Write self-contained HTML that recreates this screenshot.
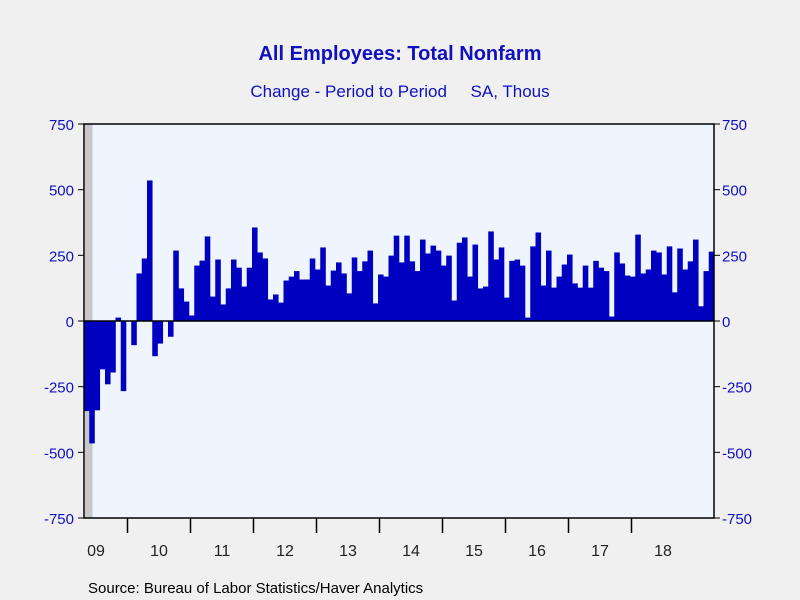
<!DOCTYPE html>
<html><head><meta charset="utf-8"><style>
body{margin:0;background:#f0f0f0;}
svg{display:block;font-family:"Liberation Sans",sans-serif;}
</style></head><body>
<svg width="800" height="600">
<rect x="0" y="0" width="800" height="600" fill="#f0f0f0"/>
<text x="400" y="60" text-anchor="middle" font-size="20" font-weight="bold" fill="#1010c0">All Employees: Total Nonfarm</text>
<text x="400" y="97" text-anchor="middle" font-size="17" fill="#1010c0" xml:space="preserve">Change - Period to Period     SA, Thous</text>
<rect x="84" y="124" width="630" height="394" fill="#eef5ff"/>
<rect x="85" y="124" width="7.5" height="394" fill="#c8c8c8"/>
<g id="bars"></g>
<g id="axes"></g>
<text x="88" y="593" font-size="15" fill="#000">Source:  Bureau of Labor Statistics/Haver Analytics</text>
</svg>
<script>
const values=[-343,-466,-340,-184,-241,-196,13,-267,2,-92,181,238,535,-134,-86,-2,-60,268,124,74,21,211,230,322,93,234,63,124,234,203,131,203,356,261,238,82,101,70,154,169,190,158,158,238,196,280,135,192,223,181,105,242,190,227,268,67,177,169,249,325,223,325,227,190,310,257,287,268,211,249,78,298,318,169,291,124,131,341,234,280,89,229,234,211,13,284,337,135,268,127,169,215,253,143,127,211,127,229,203,190,17,261,219,173,169,329,181,196,268,261,177,284,109,276,196,227,310,56,190,264];
const ticks=[750,500,250,0,-250,-500,-750];
const years=["09","10","11","12","13","14","15","16","17","18"];
const X0=84,W=630,N=values.length,bw=W/N;
const y=v=>321-v*(394/1500);
const x=i=>X0+i*bw;
const NS="http://www.w3.org/2000/svg";
const bars=document.getElementById('bars'),axes=document.getElementById('axes');
function mk(tag,attrs,parent){const e=document.createElementNS(NS,tag);for(const k in attrs)e.setAttribute(k,attrs[k]);parent.appendChild(e);return e;}
values.forEach((v,i)=>{
 const r=mk('rect',{x:x(i),y:Math.min(y(v),y(0)),width:bw+0.3,height:Math.abs(y(v)-y(0)),fill:'#0000c0'},bars);
 
 
});
const frame=mk('rect',{x:84,y:124,width:630,height:394,fill:'none',stroke:'#000','stroke-width':1.5},axes);


const zl=mk('line',{x1:84,x2:714,y1:y(0),y2:y(0),stroke:'#000','stroke-width':1.5},axes);


ticks.forEach(t=>{
 mk('line',{x1:78,x2:84,y1:y(t),y2:y(t),stroke:'#000'},axes);
 mk('line',{x1:714,x2:720,y1:y(t),y2:y(t),stroke:'#000'},axes);
 const l=mk('text',{x:74,y:y(t)+6,'text-anchor':'end','font-size':15,fill:'#1010c0'},axes);l.textContent=t;
 
 
 const r=mk('text',{x:722,y:y(t)+6,'font-size':15,fill:'#1010c0'},axes);r.textContent=t;
 
 
});
years.forEach((yr,j)=>{
 const start=X0+(j*12-4)*bw+1.5;
 if(j>0) mk('line',{x1:start,x2:start,y1:518,y2:533,stroke:'#000','stroke-width':1.5},axes);
 const c=start+6*bw;
 const t=mk('text',{x:j==0?96:c,y:556,'text-anchor':'middle','font-size':16,fill:'#222'},axes);t.textContent=yr;
 
 
});
</script>
</body></html>
